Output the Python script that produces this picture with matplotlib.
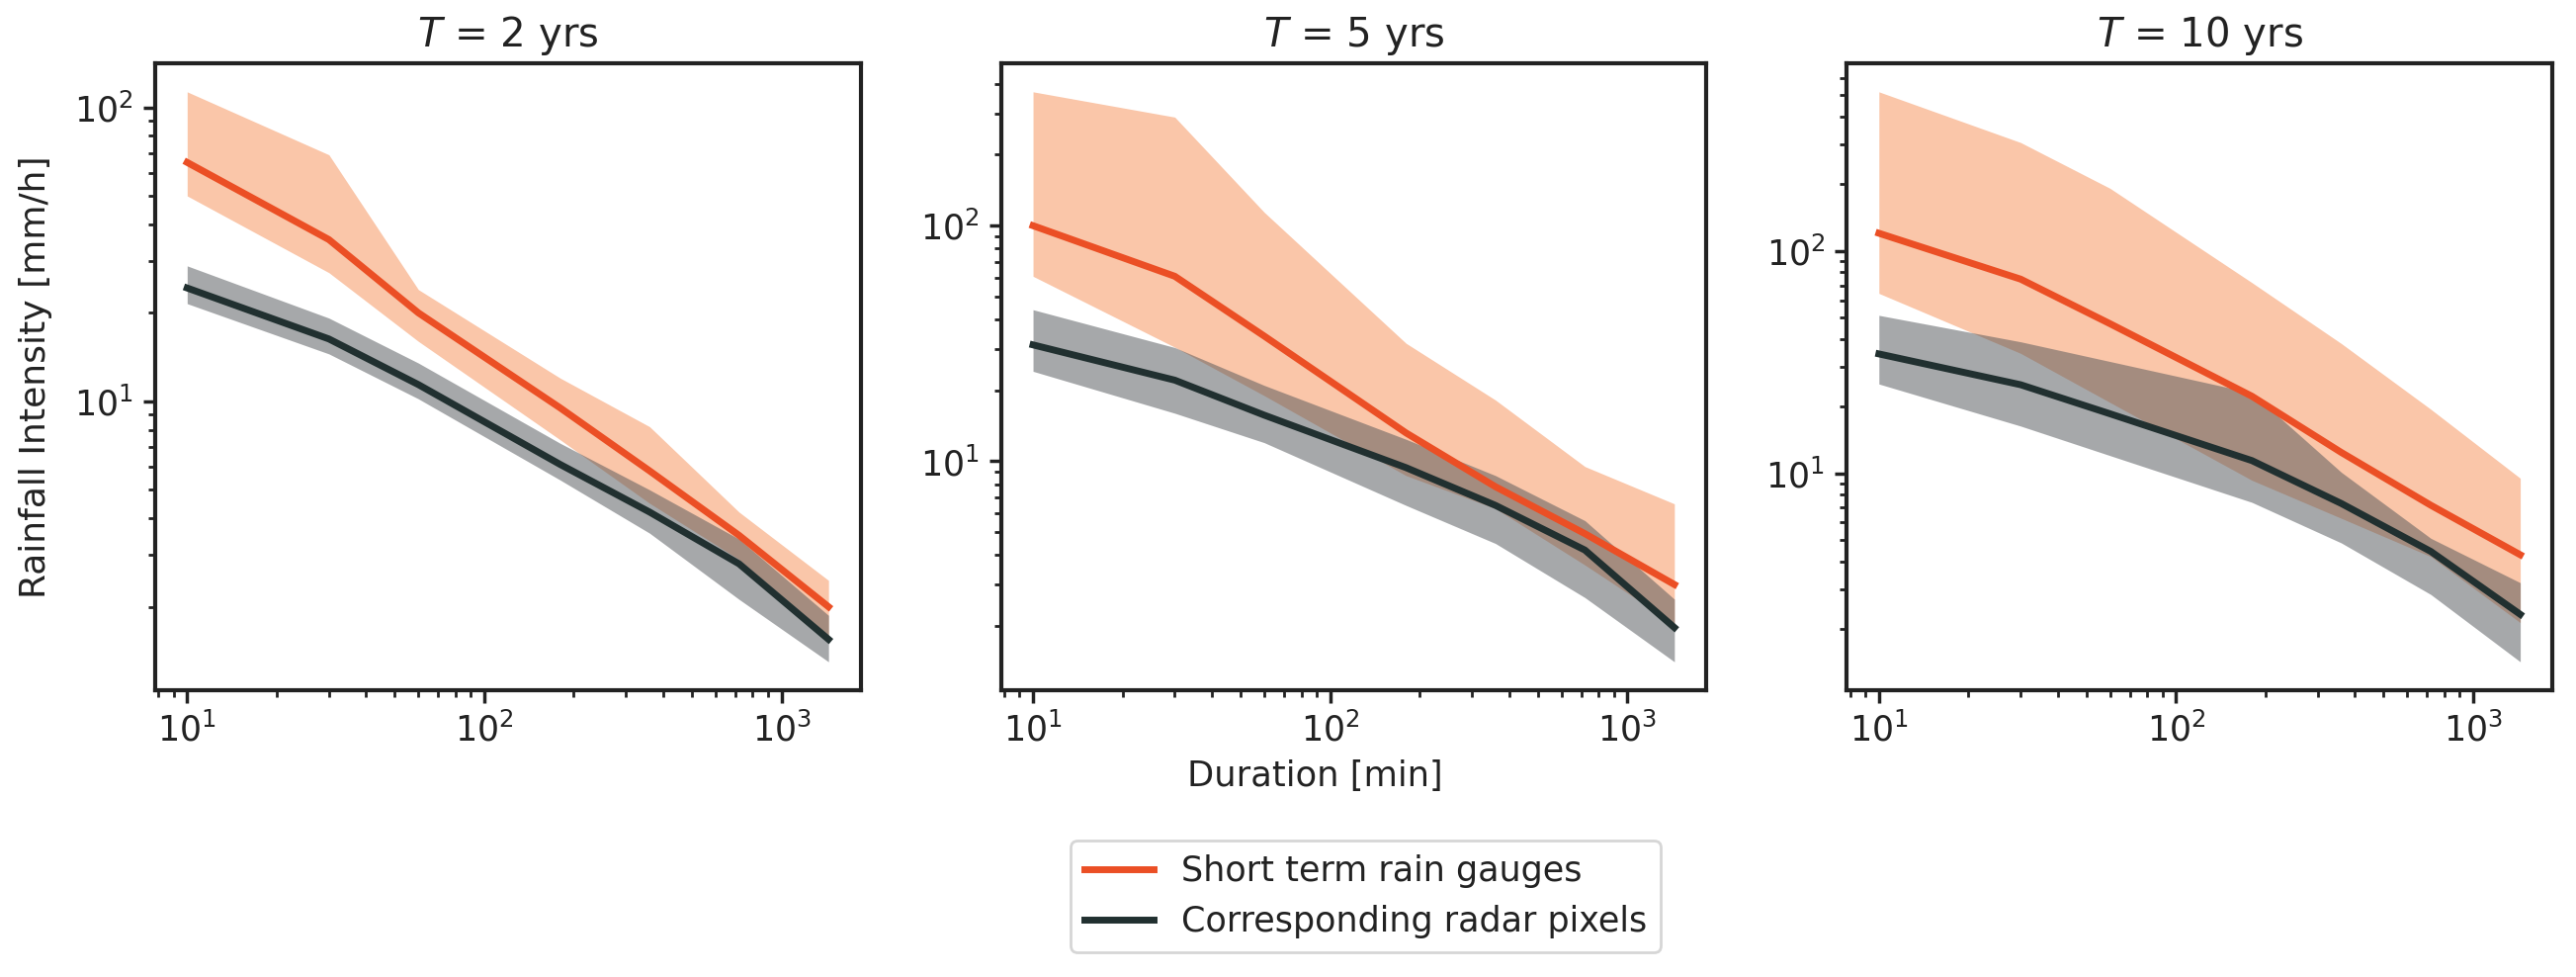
import matplotlib
matplotlib.use("Agg")
import matplotlib.pyplot as plt

durations = [10, 30, 60, 180, 360, 720, 1440]

return_periods = [2, 5, 10]

gauge_med_T2 = [65, 35.5, 20, 9.5, 5.8, 3.5, 2.0]
gauge_lo_T2 = [50, 27.4, 16, 7.4, 4.5, 2.9, 1.6]
gauge_hi_T2 = [113, 69, 24, 12, 8.2, 4.2, 2.46]
radar_med_T2 = [24.3, 16.3, 11.4, 6.1, 4.2, 2.8, 1.55]
radar_lo_T2 = [21.5, 14.5, 10.2, 5.4, 3.56, 2.12, 1.30]
radar_hi_T2 = [28.9, 19.2, 13.5, 7.2, 5.0, 3.4, 1.87]

gauge_med_T5 = [100, 61, 34, 13.2, 7.8, 4.93, 3.0]
gauge_lo_T5 = [61, 30.5, 19, 8.7, 6.3, 3.63, 2.04]
gauge_hi_T5 = [370, 289, 114, 31.7, 18.2, 9.5, 6.6]
radar_med_T5 = [31.2, 22.1, 15.7, 9.4, 6.5, 4.2, 1.97]
radar_lo_T5 = [24.1, 16.0, 12.0, 6.5, 4.48, 2.64, 1.41]
radar_hi_T5 = [44, 30.4, 21, 12.4, 8.7, 5.6, 2.6]

gauge_med_T10 = [120, 74.6, 47, 22.2, 12.4, 7.18, 4.3]
gauge_lo_T10 = [64.4, 34.6, 20.8, 9.3, 6.27, 4.22, 2.13]
gauge_hi_T10 = [519, 307, 191, 72, 38.3, 19.4, 9.5]
radar_med_T10 = [34.4, 25.0, 18.5, 11.4, 7.31, 4.45, 2.32]
radar_lo_T10 = [25.2, 16.3, 12.0, 7.4, 4.86, 2.85, 1.42]
radar_hi_T10 = [51.3, 39.0, 31.8, 23.0, 10.1, 5.1, 3.22]

panels = [
    (gauge_med_T2, gauge_lo_T2, gauge_hi_T2, radar_med_T2, radar_lo_T2, radar_hi_T2),
    (gauge_med_T5, gauge_lo_T5, gauge_hi_T5, radar_med_T5, radar_lo_T5, radar_hi_T5),
    (gauge_med_T10, gauge_lo_T10, gauge_hi_T10, radar_med_T10, radar_lo_T10, radar_hi_T10),
]

label_gauge = "Short term rain gauges"
label_radar = "Corresponding radar pixels"

ORANGE = "#EB4F25"
ORANGE_FILL = "#FAC6A9"
DARK = "#213030"
GRAY_FILL = "#4F5357"
TXT = "#222222"

plt.rcParams.update({
    "font.family": ["DejaVu Sans"],
    "font.size": 13,
    "text.color": TXT,
    "axes.labelcolor": TXT,
    "axes.edgecolor": TXT,
    "xtick.color": TXT,
    "ytick.color": TXT,
    "axes.linewidth": 1.5,
    "xtick.major.width": 1.25,
    "ytick.major.width": 1.25,
    "xtick.minor.width": 1.0,
    "ytick.minor.width": 1.0,
    "xtick.major.size": 4.5,
    "ytick.major.size": 4.5,
    "xtick.minor.size": 2.5,
    "ytick.minor.size": 2.5,
    "xtick.labelsize": 12.5,
    "ytick.labelsize": 12.5,
})

fig, axes = plt.subplots(1, 3, figsize=(13.03, 4.94), dpi=200)
fig.subplots_adjust(left=0.0602, right=0.9908, bottom=0.2935, top=0.9352, wspace=0.199)

handles = []
for ax, T, (gm, gl, gh, rm, rl, rh) in zip(axes, return_periods, panels):
    ax.fill_between(durations, gl, gh, color=ORANGE_FILL, linewidth=0, zorder=1)
    ax.fill_between(durations, rl, rh, color=GRAY_FILL, alpha=0.5, linewidth=0, zorder=2)
    l1, = ax.plot(durations, gm, color=ORANGE, lw=2.5, zorder=3, label=label_gauge)
    l2, = ax.plot(durations, rm, color=DARK, lw=2.5, zorder=4, label=label_radar)
    ax.set_xscale("log")
    ax.set_yscale("log")
    ax.set_title(f"$T$ = {T} yrs", fontsize=14.5)
    handles = [l1, l2]

axes[0].set_ylabel("Rainfall Intensity [mm/h]", fontsize=13, labelpad=8)
axes[1].set_xlabel("Duration [min]", fontsize=12.7)
axes[1].xaxis.label.set_x(0.445)

fig.legend(handles=handles, loc="upper center", bbox_to_anchor=(0.5301, 0.1397),
           borderaxespad=0, fontsize=12.6, frameon=True)

fig.savefig("out.png", dpi=200)
